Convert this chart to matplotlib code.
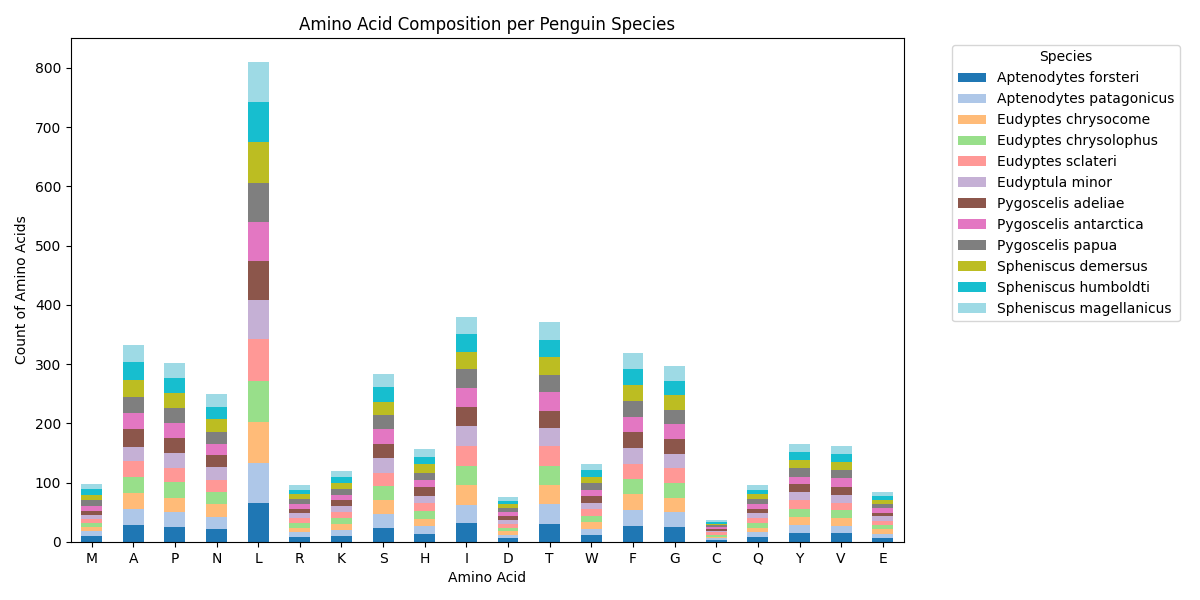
import numpy as np
import matplotlib
matplotlib.use("Agg")
import matplotlib.pyplot as plt

amino_acids = ["M", "A", "P", "N", "L", "R", "K", "S", "H", "I", "D", "T",
               "W", "F", "G", "C", "Q", "Y", "V", "E"]
species = ["Aptenodytes forsteri", "Aptenodytes patagonicus", "Eudyptes chrysocome",
           "Eudyptes chrysolophus", "Eudyptes sclateri", "Eudyptula minor",
           "Pygoscelis adeliae", "Pygoscelis antarctica", "Pygoscelis papua",
           "Spheniscus demersus", "Spheniscus humboldti", "Spheniscus magellanicus"]

# counts per amino acid, one value per species (species order as above)
M = [10, 8, 7, 7, 7, 7, 7, 8, 10, 9, 9, 9]
A = [29, 27, 26, 27, 27, 25, 29, 27, 27, 29, 30, 29]
P = [25, 25, 25, 26, 24, 25, 25, 25, 26, 25, 25, 26]
N = [22, 20, 22, 20, 20, 22, 20, 20, 19, 22, 20, 22]
L = [66, 67, 70, 69, 70, 67, 65, 66, 66, 69, 67, 68]
R = [8, 9, 7, 8, 8, 9, 7, 8, 9, 8, 7, 8]
K = [10, 10, 10, 10, 10, 10, 10, 10, 10, 10, 10, 10]
S = [24, 24, 22, 24, 22, 25, 24, 25, 24, 22, 25, 22]
H = [14, 13, 12, 14, 13, 12, 14, 13, 12, 14, 13, 13]
I = [32, 30, 34, 32, 34, 34, 32, 32, 32, 29, 30, 29]
D = [7, 5, 7, 5, 7, 6, 7, 7, 6, 7, 5, 7]
T = [30, 34, 32, 32, 34, 30, 29, 32, 29, 30, 29, 30]
W = [12, 10, 12, 10, 12, 10, 12, 10, 12, 10, 12, 10]
F = [27, 27, 27, 25, 26, 27, 27, 25, 27, 27, 27, 27]
G = [25, 25, 25, 25, 24, 25, 25, 25, 24, 25, 24, 25]
C = [3, 3, 3, 3, 4, 3, 3, 3, 3, 3, 3, 3]
Q = [8, 9, 7, 8, 9, 8, 7, 8, 9, 8, 7, 8]
Y = [15, 14, 13, 14, 15, 13, 14, 12, 15, 13, 13, 14]
V = [15, 12, 14, 13, 12, 14, 13, 15, 14, 13, 14, 13]
E = [7, 7, 8, 7, 7, 7, 6, 8, 7, 7, 7, 6]

table = np.array([M, A, P, N, L, R, K, S, H, I, D, T, W, F, G, C, Q, Y, V, E])  # (aa, species)

cmap = plt.get_cmap("tab20")
colors = cmap(np.linspace(0, 1, len(species)))

fig = plt.figure(figsize=(12, 6), dpi=100)
ax = fig.add_axes([0.059, 0.0967, 0.694, 0.840])

x = np.arange(len(amino_acids))
bottom = np.zeros(len(amino_acids))
for j, sp in enumerate(species):
    vals = table[:, j]
    ax.bar(x, vals, width=0.5, bottom=bottom, color=colors[j], label=sp)
    bottom += vals

ax.set_xticks(x)
ax.set_xticklabels(amino_acids, rotation=0)
ax.set_xlim(-0.5, len(amino_acids) - 0.5)
ax.set_ylim(0, bottom.max() * 1.05)
ax.set_title("Amino Acid Composition per Penguin Species")
ax.set_xlabel("Amino Acid")
ax.set_ylabel("Count of Amino Acids")
ax.legend(title="Species", bbox_to_anchor=(1.05, 1), loc="upper left")

fig.savefig("out.png", dpi=100)
